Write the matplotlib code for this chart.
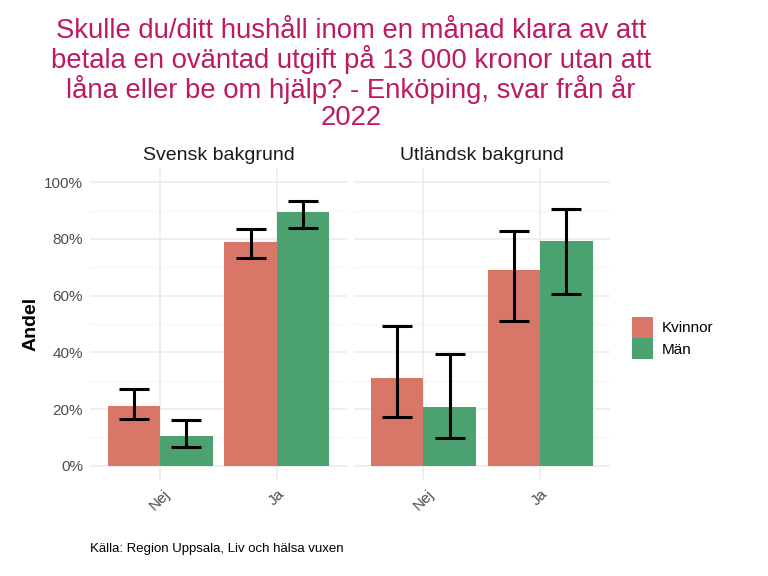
import matplotlib
matplotlib.use("Agg")
import matplotlib.pyplot as plt
import numpy as np
from matplotlib.patches import Patch

plt.rcParams['font.family'] = ['Liberation Sans', 'DejaVu Sans']

panels = ["Svensk bakgrund", "Utländsk bakgrund"]
categories = ["Nej", "Ja"]
groups = ["Kvinnor", "Män"]
colors = {"Kvinnor": "#D87768", "Män": "#4BA270"}

# values per panel: [Nej, Ja]
values = {
    "Svensk bakgrund": {"Kvinnor": [0.211, 0.790], "Män": [0.106, 0.894]},
    "Utländsk bakgrund": {"Kvinnor": [0.310, 0.691], "Män": [0.208, 0.792]},
}
lower = {
    "Svensk bakgrund": {"Kvinnor": [0.165, 0.732], "Män": [0.067, 0.840]},
    "Utländsk bakgrund": {"Kvinnor": [0.171, 0.509], "Män": [0.097, 0.607]},
}
upper = {
    "Svensk bakgrund": {"Kvinnor": [0.270, 0.836], "Män": [0.162, 0.934]},
    "Utländsk bakgrund": {"Kvinnor": [0.492, 0.829], "Män": [0.394, 0.904]},
}

title = ("Skulle du/ditt hushåll inom en månad klara av att\n"
         "betala en oväntad utgift på 13 000 kronor utan att\n"
         "låna eller be om hjälp? - Enköping, svar från år\n"
         "2022")
caption = "Källa: Region Uppsala, Liv och hälsa vuxen"

fig = plt.figure(figsize=(7.68, 5.76), dpi=100)
W, H = 768, 576
def ax_rect(x0, x1, y0, y1):
    return [x0 / W, 1 - y1 / H, (x1 - x0) / W, (y1 - y0) / H]

axes = [fig.add_axes(ax_rect(90, 347, 168, 480)),
        fig.add_axes(ax_rect(353.5, 610, 168, 480))]

grid_major = "#EBEBEB"
grid_minor = "#F5F5F5"
bw = 0.45
x = np.arange(1, len(categories) + 1)

for i, (ax, panel) in enumerate(zip(axes, panels)):
    ax.set_xlim(0.4, 2.6)
    ax.set_ylim(-0.05, 1.05)
    for s in ax.spines.values():
        s.set_visible(False)
    for yv in np.arange(0.1, 1.0, 0.2):
        ax.axhline(yv, color=grid_minor, lw=0.8, zorder=0)
    for yv in np.arange(0, 1.01, 0.2):
        ax.axhline(yv, color=grid_major, lw=1.1, zorder=0)
    for xv in x:
        ax.axvline(xv, color=grid_major, lw=1.1, zorder=0)
    for j, g in enumerate(groups):
        off = (j - 0.5) * bw
        vals = np.array(values[panel][g])
        lo = np.array(lower[panel][g])
        hi = np.array(upper[panel][g])
        ax.bar(x + off, vals, width=bw, color=colors[g], zorder=2, linewidth=0)
        ax.errorbar(x + off, vals, yerr=[vals - lo, hi - vals], fmt='none',
                    ecolor='black', elinewidth=2.2, capsize=10.5, capthick=2.2, zorder=3)
    ax.set_xticks(x)
    ax.set_xticklabels(categories, rotation=45, ha='center', va='top',
                       fontsize=11, color='#4D4D4D')
    ax.tick_params(axis='both', length=0, pad=5)
    ax.set_yticks(np.arange(0, 1.01, 0.2))
    if i == 0:
        ax.set_yticklabels([f"{int(round(v*100))}%" for v in np.arange(0, 1.01, 0.2)],
                           fontsize=11, color='#4D4D4D')
        ax.set_ylabel("Andel", fontsize=14, fontweight='bold', labelpad=3)
    else:
        ax.set_yticklabels([])
    ax.set_title(panel, fontsize=14, color='#1A1A1A', pad=6)

fig.text(351 / W, 1 - 18 / H, title, ha='center', va='top', fontsize=19.8,
         color='#BE1A62', linespacing=1.04)
fig.text(90 / W, 1 - 549 / H, caption, ha='left', va='center', fontsize=9.5, color='black')

handles = [Patch(facecolor=colors[g], edgecolor='none') for g in groups]
fig.legend(handles, groups, loc='center left', bbox_to_anchor=(618 / W, 1 - 338 / H),
           frameon=False, fontsize=11, handlelength=1.4, handleheight=1.75,
           handletextpad=0.55, labelspacing=0.0)

fig.savefig("out.png", dpi=100)
